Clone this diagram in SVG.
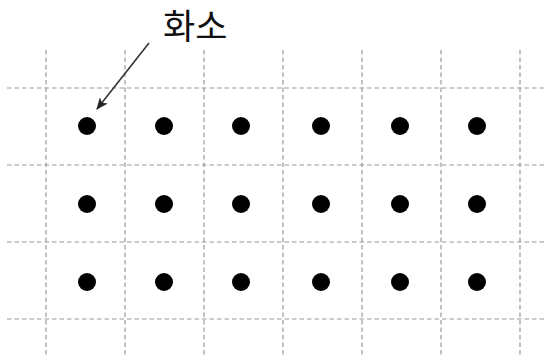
<svg xmlns="http://www.w3.org/2000/svg" width="546" height="359" viewBox="0 0 546 359">
<style>
.grid line{stroke:#999;stroke-width:1.2;stroke-dasharray:4.5 3;}
.dot{fill:#000;}
.lbl{font-family:"Noto Sans CJK KR","Noto Sans",sans-serif;font-size:35px;fill:#111;}
.conn{stroke:#333;stroke-width:1.6;fill:none;}
</style>
<defs>
<marker id="ah" viewBox="0 0 12 10" refX="11" refY="5" markerWidth="12" markerHeight="10" markerUnits="userSpaceOnUse" orient="auto">
<path d="M0,0 L12,5 L0,10 L3,5 Z" fill="#222"/>
</marker>
</defs>
<rect width="546" height="359" fill="#fff"/>
<g id="grid" class="grid">
<line x1="46" y1="50" x2="46" y2="357"/>
<line x1="125" y1="50" x2="125" y2="357"/>
<line x1="204" y1="50" x2="204" y2="357"/>
<line x1="283" y1="50" x2="283" y2="357"/>
<line x1="362" y1="50" x2="362" y2="357"/>
<line x1="441" y1="50" x2="441" y2="357"/>
<line x1="520" y1="50" x2="520" y2="357"/>
<line x1="7" y1="88" x2="546" y2="88"/>
<line x1="7" y1="165" x2="546" y2="165"/>
<line x1="7" y1="242" x2="546" y2="242"/>
<line x1="7" y1="319" x2="546" y2="319"/>
</g>
<g id="pixels">
<g id="row1">
<circle class="dot" cx="87" cy="126" r="9"/>
<circle class="dot" cx="164" cy="126" r="9"/>
<circle class="dot" cx="241" cy="126" r="9"/>
<circle class="dot" cx="321" cy="126" r="9"/>
<circle class="dot" cx="400" cy="126" r="9"/>
<circle class="dot" cx="477" cy="126" r="9"/>
</g>
<g id="row2">
<circle class="dot" cx="87" cy="204" r="9"/>
<circle class="dot" cx="164" cy="204" r="9"/>
<circle class="dot" cx="241" cy="204" r="9"/>
<circle class="dot" cx="321" cy="204" r="9"/>
<circle class="dot" cx="400" cy="204" r="9"/>
<circle class="dot" cx="477" cy="204" r="9"/>
</g>
<g id="row3">
<circle class="dot" cx="87" cy="282" r="9"/>
<circle class="dot" cx="164" cy="282" r="9"/>
<circle class="dot" cx="241" cy="282" r="9"/>
<circle class="dot" cx="321" cy="282" r="9"/>
<circle class="dot" cx="400" cy="282" r="9"/>
<circle class="dot" cx="477" cy="282" r="9"/>
</g>
</g>
<g id="label">
<text class="lbl" x="163" y="39">화소</text>
</g>
<g id="connectors">
<line class="conn" x1="149" y1="43" x2="97" y2="109" marker-end="url(#ah)"/>
</g>
</svg>
